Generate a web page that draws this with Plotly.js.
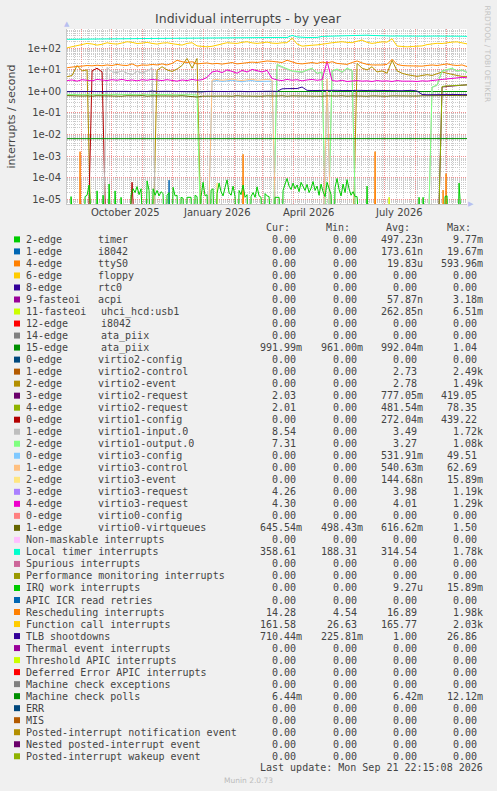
<!DOCTYPE html>
<html><head><meta charset="utf-8">
<script src="https://cdn.plot.ly/plotly-3.0.1.min.js"></script>
<style>html,body{margin:0;padding:0;background:#f0f0f0;}#chart{width:497px;height:791px;}</style>
</head><body><div id="chart"></div>
<script>
// ---------------- time axis ----------------
const rangeStart = '2025-08-17 22:15:08';
const rangeEnd = '2026-09-21 22:15:08';
const monthStarts = ['2025-09-01','2025-10-01','2025-11-01','2025-12-01','2026-01-01','2026-02-01','2026-03-01','2026-04-01','2026-05-01','2026-06-01','2026-07-01','2026-08-01','2026-09-01'];
const labelDates = ['2025-10-15 12:00','2026-01-15 00:00','2026-04-16 00:00','2026-07-16 00:00'];
const labelTexts = ['October 2025','January 2026','April 2026','July 2026'];
const yTickVals = [1e-5,1e-4,1e-3,1e-2,1e-1,1,10,100];
const yTickText = ['1e-05','1e-04','1e-03','1e-02','1e-01','1e+00','1e+01','1e+02'];

// ---------------- series (5-day samples from 2025-08-18) ----------------
const localTimer = [262,262,265,268,268,270,272,270,274,276,
 278,280,280,282,285,287,290,290,292,294,
 296,298,298,300,302,300,298,302,305,308,
 310,310,312,312,314,312,312,314,316,315,
 318,318,320,322,318,400,340,318,318,320,
 322,360,368,372,370,372,375,405,415,412,
 410,398,385,370,368,372,375,370,368,372,
 375,370,368,372,376,374,370,368,372,366,360];
const functionCall = [106,118,135,150,170,160,142,155,182,165,
 158,178,203,190,168,175,190,170,158,175,
 183,165,150,142,170,183,130,119,118,125,
 142,160,183,175,170,190,203,180,170,182,
 195,175,170,182,183,300,160,127,137,140,
 145,152,168,183,195,203,190,183,215,242,
 190,170,185,200,195,280,128,120,118,122,
 125,130,150,165,172,168,185,195,200,178,162];
const rescheduling = [12.6,13,14.5,15,16,15.5,16.5,15.6,17,16,
 18,16.5,16,19,15,17,16.5,18,17,19,
 17,20,28,24,22,24,19,20,21,19,
 20,18.6,21,22,19,20,21,23,22,24,
 26,25,24,22,28,24,20,19,21,22,
 20,23,21,24,20,19,18,22,26,21,
 18,17,16.5,17,18,31,18,16,15.5,15,
 15.5,15,16,17,16,18,19,17,16,17,14.3];
const tlbShootdowns = [0.98,1.0,0.97,1.02,0.99,1.0,1.03,0.98,1.0,1.01,
 0.97,1.05,1.0,0.98,1.02,1.0,0.99,1.04,1.0,0.97,
 1.01,1.0,0.98,1.02,1.0,0.99,0.97,0.95,1.0,0.98,
 1.0,1.02,0.99,1.0,1.03,1.0,0.98,1.0,1.01,0.99,
 1.0,1.02,1.0,1.32,1.35,1.33,1.36,1.6,1.12,1.1,
 1.12,1.1,1.13,1.1,1.12,1.1,1.14,1.1,1.12,1.08,
 1.1,1.12,1.1,1.09,1.1,1.11,1.1,1.08,1.1,1.12,
 1.05,0.72,0.7,0.71,0.72,0.7,0.71,0.7,0.72,0.71,0.71];
const virtqueues = [0.64,0.62,0.63,0.61,0.62,0.6,0.63,0.62,0.61,0.64,
 0.62,0.6,0.63,0.61,0.62,0.64,0.6,0.62,0.61,0.63,
 0.62,0.6,0.61,0.63,0.6,0.58,0.55,0.6,0.61,0.62,
 0.6,0.62,0.61,0.6,0.63,0.61,0.6,0.62,0.61,0.6,
 0.62,0.6,0.61,0.63,0.6,0.62,0.61,0.6,0.62,0.6,
 0.61,0.6,0.62,0.6,0.61,0.63,0.6,0.62,0.6,0.61,
 0.6,0.62,0.6,0.61,0.6,0.62,0.61,0.6,0.62,0.6,
 0.61,0.63,0.64,0.65,0.63,0.64,0.65,0.64,0.65,0.64,0.645];
const virtio3Request4 = [3.2,3.4,3.0,3.5,3.3,3.1,3.6,3.4,3.2,3.5,
 3.3,3.6,3.2,3.4,3.1,3.5,3.3,3.6,3.4,3.2,
 3.5,3.3,3.0,3.4,3.2,3.6,3.3,3.5,4.5,8,
 9,7.5,10,8.5,7,9.5,8,10.5,9,8,
 9.5,4.0,3.4,3.2,3.6,3.3,3.5,3.1,3.4,3.6,
 3.3,3.5,25,3.2,3.0,3.3,2.9,3.1,3.2,3.0,
 3.1,2.9,3.2,3.0,3.1,2.9,3.2,3.0,3.1,3.0,
 2.9,3.1,3.0,3.3,3.4,3.6,3.8,4.0,4.3,4.5,4.3];
const virtio2Event = [4.8,5.5,16,9,10,
 0,0,0,0,0,0,0,0,0,0,0,0,0,
 9.5,14,10,8.5,11,16,34,12,34,
 0,0,0,0,0,0,0,0,0,0,0,0,0,0,0,0,0,0,0,0,0,0,0,0,0,0,0,0,0,0,0,
 20,12,10,14,8,9,7,28,9,7,6,5.5,5,5.5,6,5.5,6.5,8,7,6,5.5,5,5];
const virtio1Input = [0,0,0,0,0,0,0,
 0,13,8,7.5,9,7,6,8.5,7,9,12,0,
 0,0,0,0,0,0,0,0,0,0,0,0,0,0,0,0,0,0,0,0,0,0,
 0,16,13,10,8.5,8,7.5,9.5,11,6.5,7.5,0,8.5,10,7.5,11,9,0,
 0,0,0,0,0,0,0,0,0,0,0,0,0,0,
 1.5,1.9,8.5,9.5,11,8.5,9.5,8.54];
const virtio1Output = [0.72,0.7,0.73,0.71,0.7,0.72,0.74,0.71,0.72,0.7,
 0.73,0.72,0.71,0.7,0.72,0.73,0.71,0.7,0.72,0.74,
 0.72,0.7,0.71,0.73,0.72,0.7,0.68,
 0,0,0,0,0,0,0,0,0,0,0,0,0,0,0,
 18,14,11,9,8.5,8,10,12,7,8,0,9,11,8,12,9.5,
 0,0,0,0,0,0,0,0,0,0,0,0,0,0,0,
 1.6,2,9,10,12,9,10,7.31];
// from 2025-09-07 (5-day samples)
const virtio1Config = [0,9,12,8,0,0,0,0,0,6e-5,0];
// from 2026-01-05 (5-day samples)
const virtio3Config = [0,3.0,3.2,2.9,3.1,3.3,3.0,2.8,3.1,3.2,2.9,3.0,3.1,3.0,0,0,0,0,0,0,0,0,0,0,3.2,0];
const virtio3Control = [0,3.4,3.6,3.3,3.5,3.8,3.4,3.2,3.5,3.7,3.3,3.4,3.6,3.4,0,0,0,0,0,0,0,0,0,0,3.8,0];
// from 2026-08-23 (5-day samples)
const virtio2Request3 = [0,1.6,1.7,1.8,1.9,2.0,2.03];
const virtio2Request4 = [0,1.7,1.8,1.85,1.95,2.05,2.01];
// 25-day samples from 2025-08-18
const ataPiix15 = [0.99,0.99,0.992,0.99,0.991,0.99,0.993,0.99,0.992,0.99,0.991,0.99,0.992,0.99,0.991,0.99,0.992];
const mcePolls = [0.0064,0.0064,0.0065,0.0064,0.0064,0.0064,0.0065,0.0064,0.0064,0.0064,0.0064,0.0065,0.0064,0.0064,0.0064,0.0064,0.00644];
// 2-day samples from 2025-08-18
const irqWork = [0,0,1.3e-5,0,0,0,0,0,0,1.3e-5,
 1.5e-5,4.5e-5,0,0,0,2.4e-5,0,0,1.5e-5,0,
 0,5e-5,0,0,2.4e-5,0,0,1.2e-5,0,0,
 0,0,1.5e-5,3e-5,2e-5,3.8e-5,1.6e-5,3e-5,0,0,
 7e-5,2.5e-5,0,3e-5,1.5e-5,2.5e-5,1.4e-5,2.2e-5,1.8e-5,0,
 1.5e-5,2e-5,0,3.5e-5,1.4e-5,1.5e-5,0,1.2e-5,1.1e-5,0,
 1.2e-5,1.2e-5,1.2e-5,0,1.5e-5,1.3e-5,0,1.3e-5,6e-5,1.4e-5,
 1.6e-5,0,2.6e-5,3e-5,0,1.8e-5,5.5e-5,2.2e-5,1.4e-5,3.5e-5,
 7.8e-5,2e-5,1.5e-5,4e-5,1.3e-5,0,2.5e-5,1.6e-5,4.5e-5,1.2e-5,
 1.6e-5,0,1.3e-5,2e-5,1.2e-5,3.7e-5,1.4e-5,1.2e-5,0,1.8e-5,
 1.4e-5,1.3e-5,0,0,1.2e-5,1.2e-5,1.2e-5,0,2.5e-5,5e-5,
 9e-5,4e-5,2.8e-5,5.5e-5,3e-5,4.5e-5,2.2e-5,6e-5,3.5e-5,2.5e-5,
 4.8e-5,2e-5,3.2e-5,6.5e-5,2.5e-5,4e-5,1.5e-5,5e-5,2.2e-5,1.3e-5,
 6e-5,3e-5,1.6e-5,0,3.5e-5,9e-5,2.8e-5,1.4e-5,5e-5,2e-5,
 8e-5,3e-5,1.5e-5,2.2e-5,1.3e-5,1.3e-5,0,0,0,0,
 4e-5,0,0,0,0,0,0,0,0,0,
 0,0,0,0,0,0,0,0,0,0,
 0,0,0,0,0,0,1.2e-5,0,1.2e-5,0,
 0,0,0,0,0,0,0,0,0,1.3e-5,
 1.4e-5,0,0,0,0,0,5.5e-5,0,0,0,0];
// isolated spikes
const ttyDates = ['2025-08-30','2025-08-31','2025-09-01','2026-02-09','2026-02-10','2026-02-11','2026-06-21','2026-06-22','2026-06-23','2026-08-28','2026-08-29','2026-08-30','2026-08-31','2026-09-01','2026-09-02'];
const ttyVals = [0,1.6e-3,0,0,1.2e-3,0,0,1.6e-3,0,0,2.6e-5,0,0,1.5e-4,0];
const i8042Dates = ['2025-11-27','2025-11-28','2025-11-29'];
const i8042Vals = [0,7.5e-5,0];
const v3EventDates = ['2026-01-14','2026-01-15','2026-01-16'];
const v3EventVals = [0,5.5e-5,0];
const uhciDates = ['2026-07-05','2026-07-06','2026-07-07'];
const uhciVals = [0,1.2e-5,0];

// ---------------- legend table ----------------
const names1 = ['2-edge','1-edge','4-edge','6-edge','8-edge','9-fasteoi','11-fasteoi','12-edge','14-edge','15-edge','0-edge','1-edge','2-edge','3-edge','4-edge','0-edge','1-edge','2-edge','0-edge','1-edge','2-edge','3-edge','4-edge','0-edge','1-edge','Non-maskable interrupts','Local timer interrupts','Spurious interrupts','Performance monitoring interrupts','IRQ work interrupts','APIC ICR read retries','Rescheduling interrupts','Function call interrupts','TLB shootdowns','Thermal event interrupts','Threshold APIC interrupts','Deferred Error APIC interrupts','Machine check exceptions','Machine check polls','ERR','MIS','Posted-interrupt notification event','Nested posted-interrupt event','Posted-interrupt wakeup event'];
const names2 = ['timer','i8042','ttyS0','floppy','rtc0','acpi','uhci_hcd:usb1','i8042','ata_piix','ata_piix','virtio2-config','virtio2-control','virtio2-event','virtio2-request','virtio2-request','virtio1-config','virtio1-input.0','virtio1-output.0','virtio3-config','virtio3-control','virtio3-event','virtio3-request','virtio3-request','virtio0-config','virtio0-virtqueues'];
const colors = ['#00CC00','#0066B3','#FF8000','#FFCC00','#330099','#990099','#CCFF00','#FF0000','#808080','#008F00','#00487D','#B35A00','#B38F00','#6B006B','#8FB300','#B30000','#BEBEBE','#80FF80','#80C9FF','#FFC080','#FFE680','#AA80FF','#EE00CC','#FF8080','#666600','#FFBFFF','#00FFCC','#CC6699','#999900','#00CC00','#0066B3','#FF8000','#FFCC00','#330099','#990099','#CCFF00','#FF0000','#808080','#008F00','#00487D','#B35A00','#B38F00','#6B006B','#8FB300'];
const curVals = ['0.00','0.00','0.00','0.00','0.00','0.00','0.00','0.00','0.00','991.99m','0.00','0.00','0.00','2.03','2.01','0.00','8.54','7.31','0.00','0.00','0.00','4.26','4.30','0.00','645.54m','0.00','358.61','0.00','0.00','0.00','0.00','14.28','161.58','710.44m','0.00','0.00','0.00','0.00','6.44m','0.00','0.00','0.00','0.00','0.00'];
const minVals = ['0.00','0.00','0.00','0.00','0.00','0.00','0.00','0.00','0.00','961.00m','0.00','0.00','0.00','0.00','0.00','0.00','0.00','0.00','0.00','0.00','0.00','0.00','0.00','0.00','498.43m','0.00','188.31','0.00','0.00','0.00','0.00','4.54','26.63','225.81m','0.00','0.00','0.00','0.00','0.00','0.00','0.00','0.00','0.00','0.00'];
const avgVals = ['497.23n','173.61n','19.83u','0.00','0.00','57.87n','262.85n','0.00','0.00','992.04m','0.00','2.73','2.78','777.05m','481.54m','272.04m','3.49','3.27','531.91m','540.63m','144.68n','3.98','4.01','0.00','616.62m','0.00','314.54','0.00','0.00','9.27u','0.00','16.89','165.77','1.00','0.00','0.00','0.00','0.00','6.42m','0.00','0.00','0.00','0.00','0.00'];
const maxVals = ['9.77m','19.67m','593.96m','0.00','0.00','3.18m','6.51m','0.00','0.00','1.04','0.00','2.49k','1.49k','419.05','78.35','439.22','1.72k','1.08k','49.51','62.69','15.89m','1.19k','1.29k','0.00','1.50','0.00','1.78k','0.00','0.00','15.89m','0.00','1.98k','2.03k','26.86','0.00','0.00','0.00','0.00','12.12m','0.00','0.00','0.00','0.00','0.00'];
const headers = ['Cur:','Min:','Avg:','Max:'];
const lastUpdate = 'Last update: Mon Sep 21 22:15:08 2026';

// ---------------- drawing ----------------
const DAY = 86400000;
const ZERO_FLOOR = 1e-9; // rrdtool draws zero to below the log axis
const floorZeros = a => a.map(v => (v === 0 ? ZERO_FLOOR : v));
const traces = [];
function gridTrace(y, x0, stepDays, color) {
  traces.push({type:'scatter', mode:'lines', x0:x0, dx:stepDays*DAY, y:floorZeros(y),
    line:{color:color, width:1}, hoverinfo:'skip', showlegend:false});
}
function xyTrace(x, y, color) {
  traces.push({type:'scatter', mode:'lines', x:x, y:floorZeros(y),
    line:{color:color, width:1}, hoverinfo:'skip', showlegend:false});
}
xyTrace(i8042Dates, i8042Vals, colors[1]);
xyTrace(ttyDates, ttyVals, colors[2]);
xyTrace(uhciDates, uhciVals, colors[6]);
gridTrace(ataPiix15, '2025-08-18', 25, colors[9]);
gridTrace(virtio2Event, '2025-08-18', 5, colors[12]);
gridTrace(virtio2Request3, '2026-08-23', 5, colors[13]);
gridTrace(virtio2Request4, '2026-08-23', 5, colors[14]);
gridTrace(virtio1Config, '2025-09-07', 5, colors[15]);
gridTrace(virtio1Input, '2025-08-18', 5, colors[16]);
gridTrace(virtio1Output, '2025-08-18', 5, colors[17]);
gridTrace(virtio3Config, '2026-01-05', 5, colors[18]);
gridTrace(virtio3Control, '2026-01-05', 5, colors[19]);
xyTrace(v3EventDates, v3EventVals, colors[20]);
gridTrace(virtio3Request4, '2025-08-18', 5, colors[22]);
gridTrace(virtqueues, '2025-08-18', 5, colors[24]);
gridTrace(localTimer, '2025-08-18', 5, colors[26]);
gridTrace(irqWork, '2025-08-18', 2, colors[29]);
gridTrace(rescheduling, '2025-08-18', 5, colors[31]);
gridTrace(functionCall, '2025-08-18', 5, colors[32]);
gridTrace(tlbShootdowns, '2025-08-18', 5, colors[33]);
gridTrace(mcePolls, '2025-08-18', 25, colors[38]);

// page pixel -> paper coords (plot area: x 67..467, y 29..204)
const PL = 67, PW = 400, PB = 204, PH = 175;
const px = p => (p - PL) / PW;
const py = p => (PB - p) / PH;

const TXT = '#444';
const MONO = 'DejaVu Sans Mono';
const annotations = [];
const shapes = [];
function ann(text, x, y, anchor, font) {
  annotations.push({xref:'paper', yref:'paper', x:px(x), y:py(y), text:text, showarrow:false,
    xanchor:anchor, yanchor:'middle', borderpad:0, borderwidth:0, font:font});
}
// x-axis labels, centred half a month after the month start (rrdtool style)
labelDates.forEach((d, i) => annotations.push({xref:'x', yref:'paper', x:d, y:py(212.3), text:labelTexts[i],
  showarrow:false, xanchor:'center', yanchor:'middle', borderpad:0, borderwidth:0,
  font:{family:'DejaVu Sans', size:10, color:TXT}}));
const monoFont = {family:MONO, size:10, color:TXT};
const colRight = [301.7, 362.7, 422.7, 482.7];
const headRight = [289.5, 349.5, 410, 470.5];
headers.forEach((h, i) => ann(h, headRight[i], 227.3, 'right', monoFont));
const padUnit = s => (/[a-z]$/i.test(s) ? s : s + '\u00A0');
names1.forEach((n, k) => {
  const yRow = 239.4 + 12.02 * k;
  shapes.push({type:'rect', xref:'paper', yref:'paper', x0:px(14), x1:px(20), y0:py(yRow + 3), y1:py(yRow - 3),
    fillcolor:colors[k], line:{width:0}, layer:'above'});
  ann(n, 26, yRow, 'left', monoFont);
  if (names2[k]) ann(names2[k], /^\d\d/.test(n) ? 101 : 98, yRow, 'left', monoFont);
  [curVals[k], minVals[k], avgVals[k], maxVals[k]].forEach((v, c) => ann(padUnit(v), colRight[c], yRow, 'right', monoFont));
});
ann(lastUpdate, 482.7, 767.7, 'right', monoFont);
ann('Munin 2.0.73', 248, 780, 'center', {family:'DejaVu Sans', size:7.5, color:'#bbbbbb'});
annotations.push({xref:'paper', yref:'paper', x:px(487), y:py(53.5), text:'RRDTOOL / TOBI OETIKER', showarrow:false,
  textangle:90, xanchor:'center', yanchor:'middle', font:{family:'DejaVu Sans', size:7.5, color:'#c4c4c4'}});
// axis arrows
ann('\u25B2', 67, 24.5, 'center', {family:'DejaVu Sans', size:7, color:'#b8bff0'});
ann('\u25B6', 471, 203.5, 'center', {family:'DejaVu Sans', size:7, color:'#b8bff0'});

const minorY = [];
for (let e = -6; e <= 2; e++) for (let d = 2; d <= 9; d++) minorY.push(d * Math.pow(10, e));

const layout = {
  width:497, height:791,
  margin:{l:67, r:30, t:29, b:587, pad:0},
  paper_bgcolor:'#f0f0f0', plot_bgcolor:'#ffffff',
  showlegend:false,
  title:{text:'Individual interrupts - by year', xref:'container', yref:'container', x:248/497, y:1 - 19/791,
    xanchor:'center', yanchor:'middle', font:{family:'DejaVu Sans', size:12.5, color:TXT}},
  xaxis:{type:'date', range:[rangeStart, rangeEnd], tickmode:'array', tickvals:monthStarts,
    showticklabels:false, ticks:'', showgrid:true, gridcolor:'#f09090', griddash:'1px,1px', gridwidth:1,
    minor:{tickmode:'linear', tick0:'2025-08-18', dtick:7*DAY, showgrid:true, gridcolor:'#cacaca', griddash:'1px,1px', ticks:''},
    showline:true, linecolor:'#c8c8c8', zeroline:false, fixedrange:true},
  yaxis:{type:'log', range:[-5.23, 2.90], tickmode:'array', tickvals:yTickVals, ticktext:yTickText,
    ticks:'', showgrid:true, gridcolor:'#f09090', griddash:'1px,1px', gridwidth:1,
    minor:{tickmode:'array', tickvals:minorY, showgrid:true, gridcolor:'#cacaca', griddash:'1px,1px', ticks:''},
    showline:true, linecolor:'#c8c8c8', zeroline:false, fixedrange:true, ticklabelstandoff:3,
    tickfont:{family:'DejaVu Sans', size:10, color:TXT},
    title:{text:'interrupts / second', standoff:9, font:{family:'DejaVu Sans', size:11, color:TXT}}},
  annotations:annotations,
  shapes:shapes
};
Plotly.newPlot('chart', traces, layout, {staticPlot:true, displayModeBar:false});
</script></body></html>
